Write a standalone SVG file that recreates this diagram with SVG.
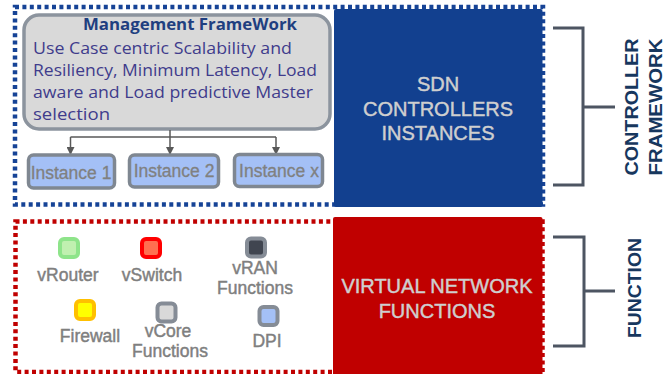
<svg xmlns="http://www.w3.org/2000/svg" width="665" height="374" viewBox="0 0 665 374">
  <defs>
    <marker id="arrow" viewBox="0 0 8 8" refX="7" refY="4" markerWidth="8" markerHeight="8" markerUnits="userSpaceOnUse" orient="auto">
      <path d="M0,0 L8,4 L0,8 Z" fill="#595959"/>
    </marker>
    <style>
      .dots-blue { fill: none; stroke: #164396; stroke-width: 4.5; stroke-dasharray: 4 3.4; }
      .dots-red { fill: none; stroke: #c00000; stroke-width: 4.5; stroke-dasharray: 4 3.4; }
      .big { font-family: "Liberation Sans", Arial, sans-serif; font-size: 20px; fill: #cfcfcf; stroke: #cfcfcf; stroke-width: 0.45; text-anchor: middle; }
      .side { font-family: "Liberation Sans", Arial, sans-serif; font-size: 19px; font-weight: bold; fill: #17375e; text-anchor: middle; }
      .bracket { fill: none; stroke: #4d5562; stroke-width: 3; }
      .mgmt { fill: #d9d9d9; stroke: #8c949e; stroke-width: 3.5; }
      .title { font-family: "Open Sans", "Liberation Sans", sans-serif; font-size: 16px; font-weight: bold; fill: #1f3f80; text-anchor: middle; }
      .body { font-family: "Open Sans", "Liberation Sans", sans-serif; font-size: 17px; fill: #403c8c; }
      .inst { fill: #a4c0f6; stroke: #7f8791; stroke-width: 3.5; }
      .inst-label { font-family: "Liberation Sans", Arial, sans-serif; font-size: 17.5px; fill: #808080; stroke: #808080; stroke-width: 0.3; text-anchor: middle; }
      .link { fill: none; stroke: #595959; stroke-width: 1.5; }
      .chip { stroke-width: 4; }
      .vnf-label { font-family: "Liberation Sans", Arial, sans-serif; font-size: 17.5px; fill: #7f7f7f; stroke: #7f7f7f; stroke-width: 0.45; text-anchor: middle; }
    </style>
  </defs>

  <!-- dotted frames around the two layers -->
  <rect class="dots-blue" x="15" y="7" width="528" height="197.5"/>
  <rect class="dots-red" x="15.5" y="221.5" width="527" height="150.5"/>

  <!-- controller layer block -->
  <g id="sdn-controllers">
    <rect x="334" y="9" width="208.5" height="198" rx="2" fill="#12408f"/>
    <text class="big" x="438" y="91">SDN</text>
    <text class="big" x="438" y="116">CONTROLLERS</text>
    <text class="big" x="438" y="140">INSTANCES</text>
  </g>

  <!-- function layer block -->
  <g id="vnf">
    <rect x="333" y="217" width="209.5" height="160" rx="2" fill="#c00000"/>
    <text class="big" x="437" y="293">VIRTUAL NETWORK</text>
    <text class="big" x="437" y="318">FUNCTIONS</text>
  </g>

  <!-- side brackets and captions -->
  <g id="controller-framework">
    <path class="bracket" d="M553,28 H583 V185 H553 M583,107 H615"/>
    <text class="side" transform="translate(638,107) rotate(-90)" x="0" y="0" textLength="137" lengthAdjust="spacingAndGlyphs">CONTROLLER</text>
    <text class="side" transform="translate(662,107) rotate(-90)" x="0" y="0" textLength="137" lengthAdjust="spacingAndGlyphs">FRAMEWORK</text>
  </g>
  <g id="function">
    <path class="bracket" d="M553,237 H584 V346 H553 M584,291 H615"/>
    <text class="side" transform="translate(641,288) rotate(-90)" x="0" y="0" textLength="100" lengthAdjust="spacingAndGlyphs">FUNCTION</text>
  </g>

  <!-- management framework -->
  <g id="management-framework">
    <rect class="mgmt" x="24" y="15" width="306" height="114" rx="15"/>
    <text class="title" x="190" y="30" textLength="214" lengthAdjust="spacingAndGlyphs">Management FrameWork</text>
    <text class="body" x="33" y="54" textLength="259" lengthAdjust="spacingAndGlyphs">Use Case centric Scalability and</text>
    <text class="body" x="33" y="76" textLength="284" lengthAdjust="spacingAndGlyphs">Resiliency, Minimum Latency, Load</text>
    <text class="body" x="33" y="98" textLength="280" lengthAdjust="spacingAndGlyphs">aware and Load  predictive Master</text>
    <text class="body" x="33" y="120" textLength="77" lengthAdjust="spacingAndGlyphs">selection</text>
  </g>

  <!-- connectors from the framework to its instances -->
  <g id="connectors">
    <path class="link" d="M170,130 V137 M70.5,137 H276"/>
    <path class="link" d="M70.5,137 V154" marker-end="url(#arrow)"/>
    <path class="link" d="M170,137 V154" marker-end="url(#arrow)"/>
    <path class="link" d="M276,137 V154" marker-end="url(#arrow)"/>
  </g>

  <g id="instance-1">
    <rect class="inst" x="28.5" y="155" width="86" height="33" rx="5"/>
    <text class="inst-label" x="71" y="179">Instance 1</text>
  </g>
  <g id="instance-2">
    <rect class="inst" x="129.5" y="155" width="89" height="32" rx="5"/>
    <text class="inst-label" x="174" y="177">Instance 2</text>
  </g>
  <g id="instance-x">
    <rect class="inst" x="234.5" y="154.5" width="88" height="32" rx="5"/>
    <text class="inst-label" x="279" y="177">Instance x</text>
  </g>

  <!-- virtual network function types -->
  <g id="vrouter">
    <rect class="chip" x="60" y="239" width="18" height="18" rx="4" fill="#c0f0b0" stroke="#8ee48a"/>
    <text class="vnf-label" x="68" y="281">vRouter</text>
  </g>
  <g id="vswitch">
    <rect class="chip" x="142" y="239" width="18" height="18" rx="4" fill="#ff7050" stroke="#ff0000"/>
    <text class="vnf-label" x="152" y="281">vSwitch</text>
  </g>
  <g id="vran">
    <rect class="chip" x="247" y="238.5" width="18" height="18" rx="4" fill="#404550" stroke="#858c96"/>
    <text class="vnf-label" x="255" y="274">vRAN</text>
    <text class="vnf-label" x="255" y="294">Functions</text>
  </g>
  <g id="firewall">
    <rect class="chip" x="76" y="301" width="18" height="18" rx="4" fill="#ffff00" stroke="#ffc000"/>
    <text class="vnf-label" x="90" y="342">Firewall</text>
  </g>
  <g id="vcore">
    <rect class="chip" x="157.5" y="303.5" width="18" height="18" rx="4" fill="#d9d9d9" stroke="#858c96"/>
    <text class="vnf-label" x="168" y="337">vCore</text>
    <text class="vnf-label" x="170" y="357">Functions</text>
  </g>
  <g id="dpi">
    <rect class="chip" x="259.5" y="307" width="18" height="18" rx="4" fill="#a4c0f6" stroke="#858c96"/>
    <text class="vnf-label" x="267" y="347">DPI</text>
  </g>
</svg>
